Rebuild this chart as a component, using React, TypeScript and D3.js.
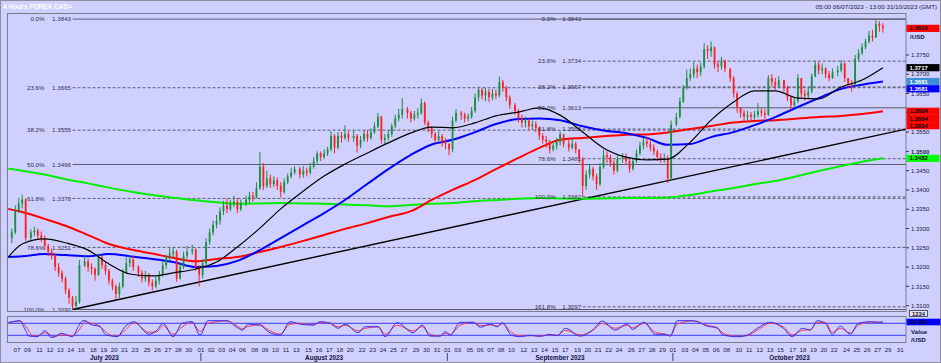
import React from "react";
import * as d3 from "d3";

// ---------------- DATA ----------------
const firstOpen = 1.3275;
// 8-hour style candles: Jul 6 (2), Jul 7 .. Oct 26 (3 per day), Oct 27 (2)
const closes = [
  1.3290, 1.3345,
  1.3365, 1.3375, 1.3275,
  1.3290, 1.3295, 1.3282,
  1.3275, 1.3255, 1.3240,
  1.3230, 1.3200, 1.3185,
  1.3170, 1.3140, 1.3120,
  1.3100, 1.3110, 1.3205,
  1.3215, 1.3200, 1.3195,
  1.3180, 1.3225, 1.3205,
  1.3190, 1.3165, 1.3150,
  1.3130, 1.3150, 1.3185,
  1.3210, 1.3220, 1.3200,
  1.3185, 1.3170, 1.3180,
  1.3160, 1.3150, 1.3165,
  1.3180, 1.3205, 1.3225,
  1.3235, 1.3240, 1.3170,
  1.3200, 1.3230, 1.3240,
  1.3245, 1.3200, 1.3180,
  1.3210, 1.3265, 1.3290,
  1.3310, 1.3320, 1.3345,
  1.3360, 1.3350, 1.3365,
  1.3370, 1.3350, 1.3365,
  1.3375, 1.3385, 1.3380,
  1.3405, 1.3460, 1.3410,
  1.3430, 1.3415, 1.3425,
  1.3410, 1.3395, 1.3420,
  1.3435, 1.3445, 1.3455,
  1.3440, 1.3450, 1.3445,
  1.3460, 1.3475, 1.3495,
  1.3485, 1.3495, 1.3505,
  1.3540, 1.3510, 1.3540,
  1.3535, 1.3545, 1.3535,
  1.3540, 1.3515, 1.3530,
  1.3545, 1.3535, 1.3550,
  1.3565, 1.3590, 1.3530,
  1.3535, 1.3545, 1.3565,
  1.3585, 1.3595, 1.3610,
  1.3600, 1.3585, 1.3595,
  1.3600, 1.3625, 1.3575,
  1.3560, 1.3545, 1.3530,
  1.3540, 1.3525, 1.3520,
  1.3505, 1.3580, 1.3600,
  1.3595, 1.3585, 1.3590,
  1.3605, 1.3640, 1.3660,
  1.3645, 1.3655, 1.3640,
  1.3650, 1.3645, 1.3680,
  1.3665, 1.3640, 1.3620,
  1.3605, 1.3585, 1.3575,
  1.3580, 1.3565, 1.3570,
  1.3560, 1.3540, 1.3530,
  1.3525, 1.3505, 1.3515,
  1.3525, 1.3545, 1.3520,
  1.3510, 1.3520, 1.3505,
  1.3480, 1.3410, 1.3440,
  1.3455, 1.3435, 1.3415,
  1.3460, 1.3490, 1.3485,
  1.3470, 1.3450, 1.3480,
  1.3485, 1.3475, 1.3455,
  1.3475, 1.3495, 1.3515,
  1.3525, 1.3520, 1.3510,
  1.3500, 1.3485, 1.3480,
  1.3480, 1.3430, 1.3570,
  1.3590, 1.3630, 1.3665,
  1.3690, 1.3700, 1.3715,
  1.3705, 1.3720, 1.3765,
  1.3760, 1.3770, 1.3725,
  1.3720, 1.3735, 1.3715,
  1.3690, 1.3650, 1.3615,
  1.3600, 1.3590, 1.3595,
  1.3590, 1.3595, 1.3605,
  1.3600, 1.3595, 1.3690,
  1.3680, 1.3670, 1.3685,
  1.3665, 1.3640, 1.3620,
  1.3630, 1.3690, 1.3650,
  1.3645, 1.3655, 1.3695,
  1.3725, 1.3710, 1.3715,
  1.3700, 1.3690, 1.3705,
  1.3710, 1.3728, 1.3690,
  1.3675, 1.3672, 1.3740,
  1.3755, 1.3770, 1.3785,
  1.3800, 1.3795, 1.3830,
  1.3825, 1.3819,
];
const highs = [
  1.3300, 1.3360,
  1.3380, 1.3388, 1.3378,
  1.3298, 1.3305, 1.3300,
  1.3292, 1.3282, 1.3260,
  1.3248, 1.3235, 1.3210,
  1.3192, 1.3175, 1.3145,
  1.3125, 1.3125, 1.3218,
  1.3232, 1.3222, 1.3210,
  1.3200, 1.3235, 1.3230,
  1.3212, 1.3195, 1.3170,
  1.3155, 1.3160, 1.3195,
  1.3225, 1.3230, 1.3228,
  1.3205, 1.3192, 1.3190,
  1.3185, 1.3168, 1.3175,
  1.3190, 1.3215, 1.3232,
  1.3250, 1.3252, 1.3245,
  1.3210, 1.3240, 1.3255,
  1.3258, 1.3250, 1.3205,
  1.3220, 1.3275, 1.3300,
  1.3320, 1.3335, 1.3355,
  1.3372, 1.3378, 1.3375,
  1.3385, 1.3380, 1.3375,
  1.3385, 1.3395, 1.3395,
  1.3420, 1.3499, 1.3470,
  1.3450, 1.3440, 1.3435,
  1.3432, 1.3420, 1.3430,
  1.3442, 1.3458, 1.3462,
  1.3460, 1.3462, 1.3458,
  1.3470, 1.3485, 1.3500,
  1.3500, 1.3505, 1.3512,
  1.3552, 1.3545, 1.3550,
  1.3550, 1.3568, 1.3552,
  1.3555, 1.3545, 1.3540,
  1.3555, 1.3555, 1.3560,
  1.3575, 1.3600, 1.3592,
  1.3545, 1.3555, 1.3572,
  1.3595, 1.3610, 1.3638,
  1.3615, 1.3605, 1.3605,
  1.3612, 1.3637, 1.3630,
  1.3580, 1.3565, 1.3550,
  1.3552, 1.3545, 1.3535,
  1.3520, 1.3590, 1.3610,
  1.3605, 1.3600, 1.3598,
  1.3615, 1.3650, 1.3668,
  1.3665, 1.3665, 1.3662,
  1.3662, 1.3660, 1.3694,
  1.3685, 1.3670, 1.3645,
  1.3625, 1.3610, 1.3595,
  1.3590, 1.3585, 1.3580,
  1.3578, 1.3565, 1.3548,
  1.3540, 1.3530, 1.3525,
  1.3535, 1.3552, 1.3545,
  1.3530, 1.3532, 1.3525,
  1.3505, 1.3485, 1.3450,
  1.3465, 1.3460, 1.3442,
  1.3470, 1.3505, 1.3500,
  1.3492, 1.3478, 1.3490,
  1.3495, 1.3495, 1.3480,
  1.3482, 1.3505, 1.3525,
  1.3535, 1.3538, 1.3530,
  1.3518, 1.3505, 1.3495,
  1.3495, 1.3490, 1.3580,
  1.3600, 1.3640, 1.3672,
  1.3712, 1.3715, 1.3732,
  1.3725, 1.3730, 1.3780,
  1.3775, 1.3785, 1.3772,
  1.3735, 1.3745, 1.3738,
  1.3710, 1.3695, 1.3655,
  1.3615, 1.3608, 1.3605,
  1.3602, 1.3605, 1.3625,
  1.3612, 1.3610, 1.3698,
  1.3700, 1.3690, 1.3695,
  1.3685, 1.3670, 1.3645,
  1.3640, 1.3700, 1.3690,
  1.3660, 1.3665, 1.3702,
  1.3735, 1.3732, 1.3728,
  1.3718, 1.3708, 1.3715,
  1.3722, 1.3736, 1.3730,
  1.3690, 1.3685, 1.3750,
  1.3765, 1.3780, 1.3792,
  1.3812, 1.3815, 1.3843,
  1.3838, 1.3832,
];
const lows = [
  1.3262, 1.3285,
  1.3340, 1.3352, 1.3268,
  1.3268, 1.3280, 1.3272,
  1.3265, 1.3245, 1.3228,
  1.3220, 1.3190, 1.3175,
  1.3160, 1.3130, 1.3105,
  1.3090, 1.3092, 1.3105,
  1.3200, 1.3188, 1.3180,
  1.3165, 1.3178, 1.3195,
  1.3180, 1.3155, 1.3140,
  1.3118, 1.3120, 1.3145,
  1.3185, 1.3200, 1.3190,
  1.3175, 1.3160, 1.3162,
  1.3150, 1.3140, 1.3145,
  1.3155, 1.3175, 1.3195,
  1.3215, 1.3225, 1.3162,
  1.3168, 1.3195, 1.3222,
  1.3232, 1.3190, 1.3150,
  1.3170, 1.3205, 1.3258,
  1.3282, 1.3300, 1.3310,
  1.3335, 1.3340, 1.3345,
  1.3355, 1.3340, 1.3345,
  1.3358, 1.3365, 1.3370,
  1.3378, 1.3400, 1.3400,
  1.3405, 1.3405, 1.3408,
  1.3400, 1.3380, 1.3390,
  1.3415, 1.3430, 1.3440,
  1.3430, 1.3432, 1.3435,
  1.3440, 1.3455, 1.3468,
  1.3475, 1.3480, 1.3488,
  1.3500, 1.3495, 1.3505,
  1.3522, 1.3530, 1.3525,
  1.3525, 1.3497, 1.3508,
  1.3525, 1.3525, 1.3530,
  1.3545, 1.3560, 1.3520,
  1.3518, 1.3528, 1.3538,
  1.3560, 1.3578, 1.3585,
  1.3585, 1.3575, 1.3580,
  1.3585, 1.3595, 1.3568,
  1.3550, 1.3535, 1.3522,
  1.3525, 1.3512, 1.3505,
  1.3490, 1.3498, 1.3575,
  1.3582, 1.3575, 1.3578,
  1.3585, 1.3600, 1.3630,
  1.3635, 1.3630, 1.3628,
  1.3632, 1.3635, 1.3640,
  1.3655, 1.3630, 1.3610,
  1.3595, 1.3575, 1.3562,
  1.3562, 1.3555, 1.3556,
  1.3550, 1.3530, 1.3520,
  1.3510, 1.3495, 1.3500,
  1.3505, 1.3515, 1.3510,
  1.3500, 1.3505, 1.3495,
  1.3470, 1.3382, 1.3400,
  1.3430, 1.3425, 1.3400,
  1.3410, 1.3455, 1.3470,
  1.3460, 1.3440, 1.3445,
  1.3470, 1.3465, 1.3445,
  1.3450, 1.3470, 1.3490,
  1.3505, 1.3510, 1.3500,
  1.3490, 1.3475, 1.3470,
  1.3470, 1.3418, 1.3425,
  1.3565, 1.3585, 1.3625,
  1.3660, 1.3682, 1.3690,
  1.3690, 1.3695, 1.3715,
  1.3740, 1.3745, 1.3715,
  1.3705, 1.3712, 1.3705,
  1.3680, 1.3640, 1.3600,
  1.3588, 1.3578, 1.3580,
  1.3578, 1.3582, 1.3588,
  1.3590, 1.3585, 1.3592,
  1.3668, 1.3660, 1.3665,
  1.3655, 1.3630, 1.3608,
  1.3612, 1.3625, 1.3640,
  1.3632, 1.3638, 1.3650,
  1.3692, 1.3700, 1.3700,
  1.3690, 1.3682, 1.3688,
  1.3695, 1.3705, 1.3680,
  1.3665, 1.3655, 1.3668,
  1.3735, 1.3750, 1.3765,
  1.3780, 1.3785, 1.3795,
  1.3810, 1.3808,
];

// Moving averages, sampled in trading-day units (0 = 6 Jul)
const maT = [0, 1.5, 3.5, 5.5, 7.5, 9.5, 11.5, 13.5, 15.5, 17.5, 19.5, 21.5, 23.5, 25.5, 27.5, 29.5, 31.5, 33.5, 35.5, 37.5, 39.5, 41.5, 43.5, 45.5, 47.5, 49.5, 51.5, 53.5, 55.5, 57.5, 59.5, 61.5, 63.5, 65.5, 67.5, 69.5, 71.5, 73.5, 75.5, 77.5, 79.5, 81.5];
const maBlack = [1.3226, 1.3260, 1.3273, 1.3263, 1.3244, 1.3208, 1.3182, 1.3177, 1.3185, 1.3195, 1.3213, 1.3252, 1.3301, 1.3351, 1.3397, 1.3436, 1.3467, 1.3496, 1.3522, 1.3548, 1.3563, 1.3561, 1.3574, 1.3592, 1.3602, 1.3613, 1.3594, 1.3550, 1.3509, 1.3485, 1.3478, 1.3480, 1.3524, 1.3581, 1.3628, 1.3657, 1.3657, 1.3638, 1.3636, 1.3667, 1.3685, 1.3717];
const maBlue = [1.3226, 1.3228, 1.3234, 1.3231, 1.3228, 1.3234, 1.3228, 1.3221, 1.3213, 1.3200, 1.3203, 1.3216, 1.3244, 1.3275, 1.3309, 1.3340, 1.3374, 1.3416, 1.3454, 1.3491, 1.3518, 1.3530, 1.3550, 1.3571, 1.3584, 1.3585, 1.3581, 1.3565, 1.3554, 1.3547, 1.3535, 1.3517, 1.3519, 1.3537, 1.3550, 1.3568, 1.3589, 1.3615, 1.3638, 1.3662, 1.3673, 1.3681];
const maRed = [1.3351, 1.3343, 1.3325, 1.3307, 1.3283, 1.3260, 1.3246, 1.3235, 1.3224, 1.3215, 1.3221, 1.3226, 1.3239, 1.3252, 1.3268, 1.3283, 1.3299, 1.3314, 1.3330, 1.3345, 1.3374, 1.3400, 1.3426, 1.3454, 1.3483, 1.3509, 1.3530, 1.3535, 1.3539, 1.3543, 1.3544, 1.3549, 1.3558, 1.3566, 1.3575, 1.3579, 1.3581, 1.3585, 1.3589, 1.3592, 1.3597, 1.3604];
const maGreen = [1.3455, 1.3450, 1.3440, 1.3428, 1.3417, 1.3406, 1.3396, 1.3387, 1.3380, 1.3373, 1.3368, 1.3364, 1.3365, 1.3366, 1.3365, 1.3364, 1.3362, 1.3360, 1.3358, 1.3361, 1.3364, 1.3366, 1.3371, 1.3374, 1.3377, 1.3379, 1.3378, 1.3377, 1.3378, 1.3379, 1.3379, 1.3380, 1.3387, 1.3396, 1.3405, 1.3415, 1.3423, 1.3436, 1.3449, 1.3462, 1.3473, 1.3482];

// Stochastic oscillator
const stochT = [0, 0.43, 1.29, 1.77, 2.0, 2.28, 2.76, 3.53, 4.11, 4.3, 5.11, 6.16, 6.69, 7.0, 7.2, 7.68, 8.64, 9.22, 9.6, 10.28, 11.05, 11.91, 13.18, 13.95, 14.53, 15.49, 16.36, 17.15, 17.92, 18.69, 20.52, 21.38, 21.98, 22.37, 23.52, 24.29, 25.44, 26.4, 27.2, 28.44, 29.12, 30.08, 30.85, 31.52, 32.6, 33.28, 34.53, 35.19, 36.35, 37.72, 38.59, 39.36, 40.32, 40.8, 41.28, 42.07, 43.32, 44.0, 44.95, 45.63, 46.11, 46.98, 47.67, 48.63, 49.59, 50.55, 51.22, 51.99, 53.27, 54.52, 55.38, 56.62, 57.61, 58.1, 59.25, 60.31, 61.27, 61.75, 62.25, 63.79, 65.13, 66.1, 66.67, 67.86, 68.81, 69.77, 71.02, 72.11, 72.97, 73.93, 74.7, 75.37, 76.14, 76.82, 77.41, 78.37, 79.14, 80.3, 81.07, 81.5];
const stochK = [85, 88, 93, 50, 16, 15, 13, 43, 10, 10, 30, 13, 60, 93, 93, 76, 63, 21, 18, 13, 63, 88, 25, 46, 80, 13, 80, 88, 21, 93, 93, 63, 46, 76, 71, 38, 21, 88, 76, 71, 88, 80, 55, 76, 33, 63, 63, 13, 83, 33, 71, 16, 16, 38, 21, 85, 85, 60, 76, 63, 83, 21, 13, 20, 15, 25, 18, 55, 16, 50, 91, 46, 76, 50, 85, 25, 25, 16, 93, 93, 66, 55, 21, 13, 21, 55, 85, 55, 13, 55, 46, 93, 80, 25, 66, 25, 80, 88, 85, 86.4];
const stochD = [80, 86, 91, 70, 40, 20, 15, 33, 20, 12, 22, 18, 40, 75, 90, 82, 66, 35, 22, 15, 45, 82, 35, 38, 68, 25, 62, 85, 40, 80, 92, 70, 52, 65, 72, 48, 26, 75, 80, 72, 84, 82, 62, 70, 42, 55, 62, 25, 70, 42, 63, 25, 17, 30, 25, 70, 85, 68, 72, 66, 78, 35, 17, 18, 16, 22, 20, 45, 22, 45, 80, 55, 70, 58, 80, 35, 26, 20, 75, 92, 70, 58, 30, 15, 18, 45, 80, 62, 22, 45, 48, 85, 84, 35, 55, 32, 70, 86, 86, 85];
const stochLevels = [80, 20];
const stochLastValue = 86.401;

// Fibonacci retracements
const fib1Pct = [0, 23.6, 38.2, 50, 61.8, 78.6, 100];
const fib1Price = [1.3843, 1.3665, 1.3555, 1.3466, 1.3378, 1.3251, 1.3090];
const fib1AnchorT = 6.17;
const fib2Pct = [0, 23.6, 38.2, 50, 61.8, 78.6, 100, 161.8];
const fib2Price = [1.3843, 1.3734, 1.3667, 1.3613, 1.3558, 1.3481, 1.3382, 1.3097];
const fib2AnchorT = 53.5;

// Trend line anchors
const trendT = [6.17, 83.6];
const trendP = [1.3090, 1.3558];

// Axis values
const priceTicks = [1.31, 1.315, 1.32, 1.325, 1.33, 1.335, 1.34, 1.345, 1.35, 1.355, 1.36, 1.365, 1.37, 1.375];
const tagValues = [1.3819, 1.3717, 1.3681, 1.3681, 1.3604, 1.3604, 1.3604, 1.3482];
const monthNames = ["July 2023", "August 2023", "September 2023", "October 2023"];

// ---------------- CHART ----------------
const FONT = "'Liberation Sans', Arial, sans-serif";
const BG = "#d0d0ff";

export default function App() {
  const W = 941, H = 363;
  const L = 8, R = 906;
  const mainTop = 13, mainBot = 311;
  const oscTop = 316.5, oscBot = 342.5;

  const allDays = d3.timeDay.range(new Date(2023, 6, 6), new Date(2023, 10, 1)).filter((d) => d.getDay() !== 6);
  let acc = 0;
  const sessions = allDays.map((d, i) => {
    const units = i === 0 ? 5 : d.getDay() === 0 ? 1 : 6;
    const s = { date: d, start: acc, units };
    acc += units;
    return s;
  });
  const weekdays = sessions.filter((s) => s.date.getDay() !== 0);

  const x = d3.scaleLinear().domain([0, 517.5]).range([8.3, 906.3]);
  const pos = (t: number) => {
    const k = Math.max(0, Math.min(Math.floor(t), weekdays.length - 1));
    const f = t - k;
    const wd = weekdays[k];
    return x(wd.start + f * wd.units);
  };
  const y = d3.scaleLinear().domain([1.3843, 1.309]).range([19.1, 309.5]);
  const oy = d3.scaleLinear().domain([0, 100]).range([339.3, 319.3]);

  // candles
  const candles: { x: number; o: number; c: number; h: number; l: number }[] = [];
  let ci = 0;
  for (let k = 0; k < weekdays.length && ci < closes.length; k++) {
    const wd = weekdays[k];
    const offs = k === 0 ? [2, 4] : [1, 3, 5];
    for (const o of offs) {
      if (ci >= closes.length) break;
      const open = ci === 0 ? firstOpen : closes[ci - 1];
      const c = closes[ci];
      candles.push({
        x: x(wd.start + o),
        o: open,
        c,
        h: Math.max(highs[ci] ?? c, open, c),
        l: Math.min(lows[ci] ?? c, open, c),
      });
      ci++;
    }
  }

  const maLine = (vals: number[]) =>
    d3
      .line<number>()
      .x((_, i) => pos(maT[i]))
      .y((v) => y(v))
      .curve(d3.curveMonotoneX)(vals) || "";
  const stLine = (vals: number[]) =>
    d3
      .line<number>()
      .x((_, i) => pos(stochT[i]))
      .y((v) => oy(v))
      .curve(d3.curveMonotoneX)(vals) || "";

  // date labels
  const dayLabels: { x: number; txt: string }[] = [];
  let lastX = -100;
  sessions.forEach((s, i) => {
    if (i === 0) return;
    const px = x(s.start);
    if (px > R) return;
    if (px - lastX >= 9) {
      dayLabels.push({ x: px, txt: d3.timeFormat("%d")(s.date) });
      lastX = px;
    }
  });
  const monthStarts = [0, 1, 2, 3].map((m) => {
    const s = sessions.find((ss) => ss.date.getMonth() === 6 + m && (m > 0 ? ss.date.getDate() <= 3 : true));
    return s ? (m === 0 ? L : x(s.start)) : L;
  });
  const monthSpans = monthStarts.map((s, i) => [s, i < 3 ? monthStarts[i + 1] : R]);

  // tags stacking
  const tagH = 7.2;
  const tagStyles = [
    { fill: "#ff0000", color: "#000000" },
    { fill: "#000000", color: "#ffffff" },
    { fill: "#3b8fd6", color: "#ffffff" },
    { fill: "#0000ff", color: "#ffffff" },
    { fill: "#ff0000", color: "#000000" },
    { fill: "#ff0000", color: "#000000" },
    { fill: "#ff0000", color: "#000000" },
    { fill: "#00ff00", color: "#000000" },
  ];
  let lastBottom = -100;
  const tags = tagValues.map((v, i) => {
    let top = y(v) - tagH / 2;
    if (top < lastBottom) top = lastBottom;
    lastBottom = top + tagH;
    return { v, top, ...tagStyles[i] };
  });
  const hiddenByTag = (v: number) => {
    const cy = y(v);
    return tags.some((t) => cy >= t.top - 1 && cy <= t.top + tagH + 1) || (cy > 32 && cy < 41);
  };

  const fibColor = "#5a5a70";
  const trendX = trendT.map(pos);
  const trendY = trendP.map(y);

  return (
    <svg
      width={W}
      height={H}
      viewBox={`0 0 ${W} ${H}`}
      style={{ position: "absolute", left: 0, top: 0, display: "block", fontFamily: FONT }}
    >
      <defs>
        <clipPath id="mainClip">
          <rect x={L} y={mainTop} width={R - L} height={mainBot - mainTop} />
        </clipPath>
        <clipPath id="oscClip">
          <rect x={L} y={oscTop} width={R - L} height={oscBot - oscTop} />
        </clipPath>
      </defs>
      <rect x={0} y={0} width={W} height={H} fill={BG} />
      <rect x={0.5} y={0.5} width={W - 1} height={H - 1} fill="none" stroke="#8e8ea0" />

      {/* header */}
      <text x={3} y={9} fontSize={6.6} fontWeight="bold" fill="#ffffff">4 Hours FOREX CAD=</text>
      <text x={937} y={9} fontSize={6.2} fill="#202040" textAnchor="end">
        05:00 06/07/2023 - 13:00 31/10/2023 (GMT)
      </text>

      {/* main panel */}
      <g clipPath="url(#mainClip)">
        {fib1Price.map((p, i) => {
          const solid = fib1Pct[i] === 0 || fib1Pct[i] === 50 || fib1Pct[i] === 100;
          return (
            <line key={"f1" + i} x1={pos(fib1AnchorT)} x2={R} y1={y(p)} y2={y(p)} stroke={fibColor}
              strokeWidth={1} strokeDasharray={solid ? undefined : "3,2"} />
          );
        })}
        {fib2Price.map((p, i) => {
          const solid = fib2Pct[i] === 0 || fib2Pct[i] === 50;
          return (
            <line key={"f2" + i} x1={pos(fib2AnchorT)} x2={R} y1={y(p)} y2={y(p)} stroke={fibColor}
              strokeWidth={1} strokeDasharray={solid ? undefined : "3,2"} />
          );
        })}
        <line x1={trendX[0]} y1={trendY[0]} x2={trendX[1]} y2={trendY[1]} stroke="#000" strokeWidth={1.4} />
        <path d={maLine(maGreen)} fill="none" stroke="#00ee00" strokeWidth={2} />
        <path d={maLine(maRed)} fill="none" stroke="#ff0000" strokeWidth={2} />
        <path d={maLine(maBlue)} fill="none" stroke="#0000ff" strokeWidth={2} />
        {candles.map((c, i) => {
          const up = c.c >= c.o;
          const col = up ? "#1a8f3e" : "#ff2020";
          const yt = y(Math.max(c.o, c.c));
          const yb = y(Math.min(c.o, c.c));
          return (
            <g key={"c" + i}>
              <line x1={c.x} x2={c.x} y1={y(c.h)} y2={y(c.l)} stroke={col} strokeWidth={1} />
              <rect x={c.x - 0.9} y={yt} width={1.8} height={Math.max(1, yb - yt)} fill={col} />
            </g>
          );
        })}
        <path d={maLine(maBlack)} fill="none" stroke="#000000" strokeWidth={1.2} />
      </g>
      {fib1Price.map((p, i) => (
        <g key={"fl1" + i} fontSize={6.2} fill="#303048">
          <text x={pos(fib1AnchorT) - 28} y={y(p) + 2.2} textAnchor="end">{fib1Pct[i].toFixed(1)}%</text>
          <text x={pos(fib1AnchorT) - 1.5} y={y(p) + 2.2} textAnchor="end">{p.toFixed(4)}</text>
        </g>
      ))}
      {fib2Price.map((p, i) => (
        <g key={"fl2" + i} fontSize={6.2} fill="#303048">
          <text x={pos(fib2AnchorT) - 27} y={y(p) + 2.2} textAnchor="end">{fib2Pct[i].toFixed(1)}%</text>
          <text x={pos(fib2AnchorT) - 1.5} y={y(p) + 2.2} textAnchor="end">{p.toFixed(4)}</text>
        </g>
      ))}
      <rect x={L - 0.5} y={mainTop + 0.5} width={R - L + 0.5} height={mainBot - mainTop} fill="none" stroke="#7c7c90" />

      {/* right price axis */}
      {priceTicks.map((v) => (
        <g key={"t" + v}>
          <line x1={R} x2={R + 3} y1={y(v)} y2={y(v)} stroke="#303048" />
          {!hiddenByTag(v) && (
            <text x={R + 5} y={y(v) + 2.2} fontSize={6} fill="#202040" fontWeight={v === 1.35 ? "bold" : "normal"}>
              {v.toFixed(4)}
            </text>
          )}
        </g>
      ))}
      <text x={R + 4} y={38.8} fontSize={6.2} fontWeight="bold" fill="#101050">/USD</text>
      {tags.map((t, i) => (
        <g key={"tag" + i}>
          <rect x={R + 0.5} y={t.top} width={33} height={tagH} fill={t.fill} />
          <text x={R + 3.5} y={t.top + tagH - 1.5} fontSize={6} fontWeight="bold" fill={t.color}>
            {t.v.toFixed(4)}
          </text>
        </g>
      ))}
      <rect x={909.5} y={310.5} width={18} height={6} fill="#e6e6f6" stroke="#303048" strokeWidth={0.8} />
      <text x={918.5} y={315.8} fontSize={5.8} fontWeight="bold" fill="#101030" textAnchor="middle">1234</text>

      {/* oscillator */}
      <g clipPath="url(#oscClip)">
        {stochLevels.map((v) => (
          <line key={"lv" + v} x1={L} x2={R} y1={oy(v)} y2={oy(v)} stroke="#3a3aff" strokeWidth={1} />
        ))}
        <path d={stLine(stochD)} fill="none" stroke="#ff3a3a" strokeWidth={1} />
        <path d={stLine(stochK)} fill="none" stroke="#3030ff" strokeWidth={1} />
      </g>
      <rect x={L - 0.5} y={oscTop} width={R - L + 0.5} height={oscBot - oscTop} fill="none" stroke="#7c7c90" />
      <rect x={R + 0.5} y={oy(stochLastValue) - 3.3} width={34} height={6.6} fill="#0000ff" />
      <text x={R + 3.5} y={oy(stochLastValue) + 2.2} fontSize={6.2} fontWeight="bold" fill="#000030">
        {stochLastValue.toFixed(3)}
      </text>
      <text x={R + 5} y={333.6} fontSize={6.2} fontWeight="bold" fill="#101040">Value</text>
      <text x={R + 5} y={341.6} fontSize={6.2} fontWeight="bold" fill="#101040">/USD</text>

      {/* date axis */}
      {dayLabels.map((d, i) => (
        <text key={"d" + i} x={d.x} y={351.5} fontSize={6.2} fill="#202040" textAnchor="middle">{d.txt}</text>
      ))}
      {monthStarts.slice(1).map((mx, i) => (
        <line key={"ms" + i} x1={mx} x2={mx} y1={353} y2={361} stroke="#404058" strokeWidth={1} />
      ))}
      {monthSpans.map((s, i) => (
        <text key={"m" + i} x={(s[0] + s[1]) / 2} y={359.6} fontSize={6.4} fontWeight="bold" fill="#101040" textAnchor="middle">
          {monthNames[i]}
        </text>
      ))}
    </svg>
  );
}
